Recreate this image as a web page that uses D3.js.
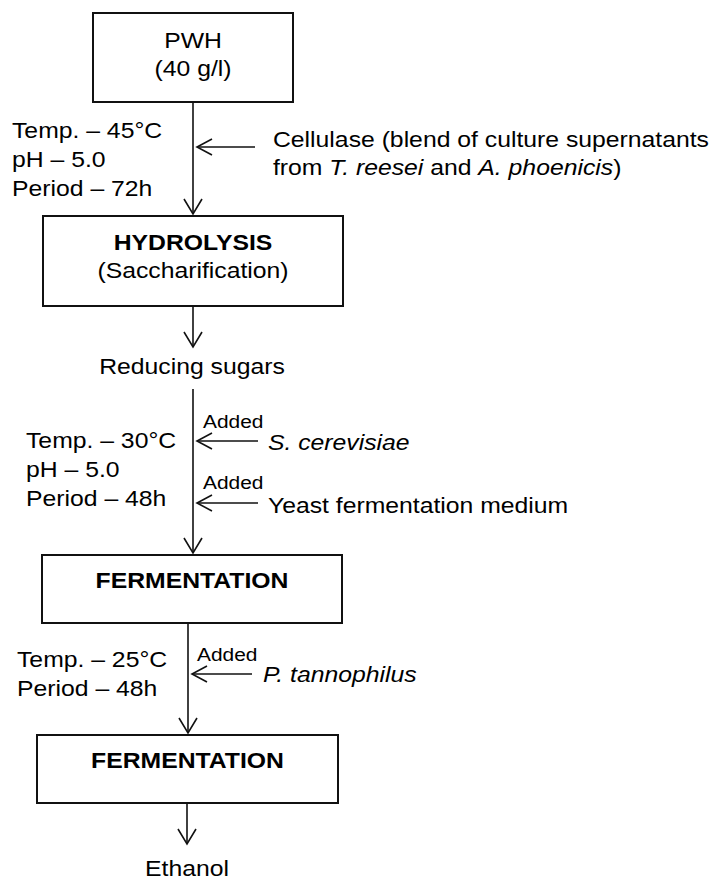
<!DOCTYPE html>
<html>
<head>
<meta charset="utf-8">
<script src="https://cdn.jsdelivr.net/npm/d3@7"></script>
<style>
  body { margin: 0; background: #fff; }
  text { font-family: "Liberation Sans", Arial, sans-serif; fill: #000; }
</style>
</head>
<body>
<div id="chart"></div>
<script>
// flow steps (boxes)
var stepTitles = ["PWH", "HYDROLYSIS", "FERMENTATION", "FERMENTATION"];
var stepSubtitles = ["(40 g/l)", "(Saccharification)", "", ""];
var stepBold = [false, true, true, true];

// products below a box
var products = ["Reducing sugars", "Ethanol"];

// process conditions, one list per stage
var conditions = [
    ["Temp. \u2013 45\u00b0C", "pH \u2013 5.0", "Period \u2013 72h"],
    ["Temp. \u2013 30\u00b0C", "pH \u2013 5.0", "Period \u2013 48h"],
    ["Temp. \u2013 25\u00b0C", "Period \u2013 48h"]
];

// things added on the right; each line is a list of [text, italic]
var additions = [
    { stage: 0, tag: "", lines: [
        [["Cellulase (blend of culture supernatants", false]],
        [["from ", false], ["T. reesei", true], [" and ", false], ["A. phoenicis", true], [")", false]]
    ]},
    { stage: 1, tag: "Added", lines: [[["S. cerevisiae", true]]] },
    { stage: 1, tag: "Added", lines: [[["Yeast fermentation medium", false]]] },
    { stage: 2, tag: "Added", lines: [[["P. tannophilus", true]]] }
];

// ---- layout (pixels) ----
var W = 716, H = 882;
var _fs = 22.5;      // main font size
var _tagFs = 19;     // "Added"
var _sx = 1.1;       // text is a bit wide in the original
var _lineH = 29;

var boxes = [
    { x0: 93, x1: 293, y0: 13, y1: 102, t: 48, s: 76 },
    { x0: 43, x1: 343, y0: 216, y1: 306, t: 250, s: 278 },
    { x0: 42, x1: 342, y0: 555, y1: 623, t: 588 },
    { x0: 37, x1: 338, y0: 735, y1: 803, t: 768 }
];
var productPos = [ { x: 192, y: 374 }, { x: 187, y: 876 } ];

// vertical arrows: x, from, to (tip)
var vArrows = [
    { x: 193, y0: 102, y1: 214 },
    { x: 193, y0: 306, y1: 347 },
    { x: 193, y0: 389, y1: 553 },
    { x: 188, y0: 623, y1: 733 },
    { x: 187, y0: 803, y1: 844 }
];
var condPos = [ { x: 12, y: 138 }, { x: 26, y: 448 }, { x: 17, y: 667 } ];
var addPos = [
    { ax0: 255, ax1: 195, ay: 147, tx: 273, ty: 147 },
    { ax0: 258, ax1: 195, ay: 441, tx: 268, ty: 450, gy: 428, gx: 203 },
    { ax0: 258, ax1: 195, ay: 503, tx: 268, ty: 513, gy: 489, gx: 203 },
    { ax0: 252, ax1: 190, ay: 674, tx: 263, ty: 682, gy: 661, gx: 197 }
];

var svg = d3.select("#chart").append("svg")
    .attr("width", W)
    .attr("height", H);

function label(g, x, y, size, anchor) {
    return g.append("text")
        .attr("transform", "translate(" + x + "," + y + ") scale(" + _sx + ",1)")
        .attr("text-anchor", anchor || "start")
        .style("font-size", size + "px");
}

// boxes
var boxG = svg.selectAll(".step")
    .data(stepTitles)
    .enter().append("g")
    .attr("class", "step");

boxG.append("rect")
    .attr("x", function(d, i) { return boxes[i].x0; })
    .attr("y", function(d, i) { return boxes[i].y0; })
    .attr("width", function(d, i) { return boxes[i].x1 - boxes[i].x0; })
    .attr("height", function(d, i) { return boxes[i].y1 - boxes[i].y0; })
    .attr("fill", "#fff")
    .attr("stroke", "#111")
    .attr("stroke-width", 2);

boxG.each(function(d, i) {
    var b = boxes[i], cx = (b.x0 + b.x1) / 2;
    label(d3.select(this), cx, b.t, _fs, "middle")
        .style("font-weight", stepBold[i] ? "bold" : "normal")
        .text(d);
    if (stepSubtitles[i])
        label(d3.select(this), cx, b.s, _fs, "middle").text(stepSubtitles[i]);
});

// products
products.forEach(function(p, i) {
    label(svg, productPos[i].x, productPos[i].y, _fs, "middle").text(p);
});

// arrows
function vArrow(a) {
    svg.append("line")
        .attr("x1", a.x).attr("x2", a.x)
        .attr("y1", a.y0).attr("y2", a.y1)
        .attr("stroke", "#111").attr("stroke-width", 1.6);
    svg.append("path")
        .attr("d", "M" + (a.x - 9) + "," + (a.y1 - 15) + "L" + a.x + "," + a.y1 + "L" + (a.x + 9) + "," + (a.y1 - 15))
        .attr("fill", "none").attr("stroke", "#111").attr("stroke-width", 1.6);
}
function hArrow(x0, x1, y) {
    svg.append("line")
        .attr("x1", x0).attr("x2", x1)
        .attr("y1", y).attr("y2", y)
        .attr("stroke", "#111").attr("stroke-width", 1.6);
    svg.append("path")
        .attr("d", "M" + (x1 + 15) + "," + (y - 8) + "L" + x1 + "," + y + "L" + (x1 + 15) + "," + (y + 8))
        .attr("fill", "none").attr("stroke", "#111").attr("stroke-width", 1.6);
}
vArrows.forEach(vArrow);

// conditions on the left
conditions.forEach(function(list, i) {
    list.forEach(function(c, j) {
        label(svg, condPos[i].x, condPos[i].y + j * _lineH, _fs).text(c);
    });
});

// additions on the right
additions.forEach(function(a, i) {
    var p = addPos[i];
    hArrow(p.ax0, p.ax1 + 2, p.ay);
    if (a.tag) label(svg, p.gx, p.gy, _tagFs).text(a.tag);
    a.lines.forEach(function(line, j) {
        var t = label(svg, p.tx, p.ty + j * 28, _fs);
        line.forEach(function(seg) {
            t.append("tspan")
                .style("font-style", seg[1] ? "italic" : "normal")
                .text(seg[0]);
        });
    });
});
</script>
</body>
</html>
